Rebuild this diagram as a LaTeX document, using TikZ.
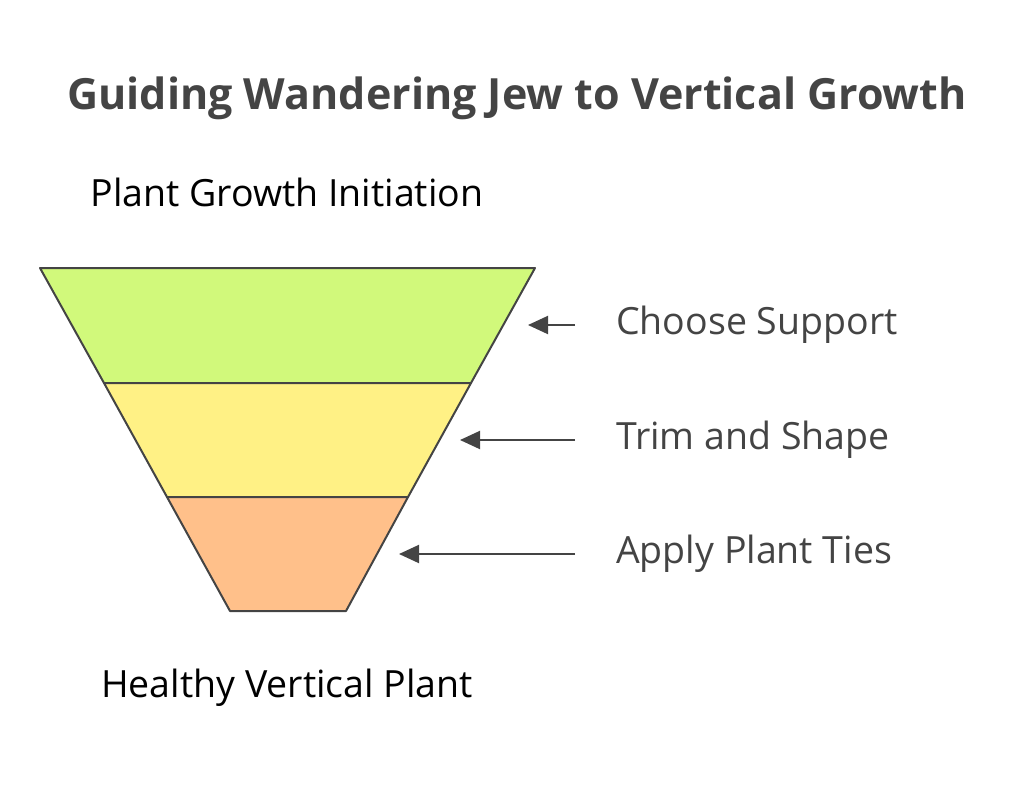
\documentclass[tikz,border=0pt]{standalone}
\usepackage{fontspec}
\setmainfont{Open Sans}
\usetikzlibrary{arrows.meta,positioning}
\definecolor{edgegray}{HTML}{444444}
\definecolor{bandgreen}{HTML}{D1F97B}
\definecolor{bandyellow}{HTML}{FFF185}
\definecolor{bandorange}{HTML}{FFC08A}
\begin{document}
\begin{tikzpicture}[x=1pt,y=-1pt,
	band/.style={draw=edgegray, line width=2pt, line join=round},
	steplabel/.style={anchor=west, text=edgegray, font=\fontsize{37.5}{44}\selectfont, inner sep=0pt},
	endlabel/.style={font=\fontsize{37.5}{44}\selectfont, inner sep=0pt},
	pointer/.style={draw=edgegray, line width=2pt, -{Stealth[length=20pt,width=18pt,inset=0pt]}}
	]
		\useasboundingbox (0,0) rectangle (1024,785);
		\node[font=\bfseries\fontsize{43}{50}\selectfont, text=edgegray] (title) at (517,98) {Guiding Wandering Jew to Vertical Growth};
		\node[endlabel] (start) at (287,192) {Plant Growth Initiation};
		\node[endlabel] (finish) at (287,688) {Healthy Vertical Plant};
		% funnel corners
		\coordinate (tl) at (40,268);   \coordinate (tr) at (535,268);
		\coordinate (al) at (104,383);  \coordinate (ar) at (471,383);
		\coordinate (bl) at (167,497);  \coordinate (br) at (408,497);
		\coordinate (cl) at (230,611);  \coordinate (cr) at (346,611);
		\draw[band, fill=bandgreen] (tl) -- (tr) -- (ar) -- (al) -- cycle;
		\draw[band, fill=bandyellow] (al) -- (ar) -- (br) -- (bl) -- cycle;
		\draw[band, fill=bandorange] (bl) -- (br) -- (cr) -- (cl) -- cycle;
		% step labels
		\node[steplabel] (support) at (616,325) {Choose Support};
		\node[steplabel] (trim) at (616,440) {Trim and Shape};
		\node[steplabel] (ties) at (616,554) {Apply Plant Ties};
		\coordinate (supportend) at (528,325);
		\coordinate (trimend) at (460,440);
		\coordinate (tiesend) at (399,554);
		\draw[pointer] ([xshift=-41pt]support.west) -- (supportend);
		\draw[pointer] ([xshift=-41pt]trim.west) -- (trimend);
		\draw[pointer] ([xshift=-41pt]ties.west) -- (tiesend);
	\end{tikzpicture}
\end{document}
